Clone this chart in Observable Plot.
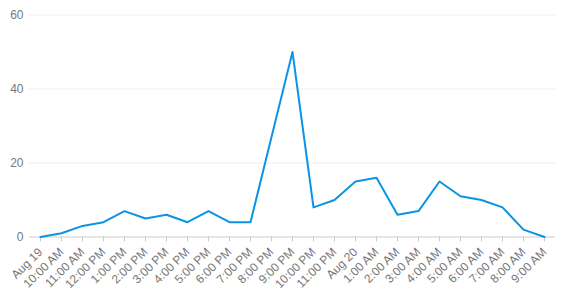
<!DOCTYPE html>
<html>
<head>
<meta charset="utf-8">
<script src="https://cdn.jsdelivr.net/npm/d3@7"></script>
<script src="https://cdn.jsdelivr.net/npm/@observablehq/plot@0.6"></script>
<style>
  html, body { margin: 0; padding: 0; background: #fff; }
</style>
</head>
<body>
<div id="chart"></div>
<script>
const times = ["Aug 19", "10:00 AM", "11:00 AM", "12:00 PM", "1:00 PM", "2:00 PM", "3:00 PM", "4:00 PM", "5:00 PM", "6:00 PM", "7:00 PM", "8:00 PM", "9:00 PM", "10:00 PM", "11:00 PM", "Aug 20", "1:00 AM", "2:00 AM", "3:00 AM", "4:00 AM", "5:00 AM", "6:00 AM", "7:00 AM", "8:00 AM", "9:00 AM"];
const counts = [0, 1, 3, 4, 7, 5, 6, 4, 7, 4, 4, 27, 50, 8, 10, 15, 16, 6, 7, 15, 11, 10, 8, 2, 0];
const yTicks = [0, 20, 40, 60];

const data = times.map((t, i) => ({t, v: counts[i]}));

const chart = Plot.plot({
  width: 562,
  height: 297,
  marginLeft: 29,
  marginRight: 7,
  marginTop: 14.5,
  marginBottom: 60.5,
  style: {fontFamily: "'Liberation Sans', Arial, sans-serif", fontSize: "12px", color: "#777", background: "#fff"},
  x: {type: "point", domain: times, padding: 0.5, label: null},
  y: {domain: [0, 60], label: null},
  marks: [
    Plot.gridY(yTicks.slice(1), {stroke: "#eee", strokeOpacity: 1}),
    Plot.axisY({ticks: yTicks, tickSize: 0, tickPadding: 6, label: null, fill: "#777"}),
    Plot.axisX({tickRotate: -45, tickSize: 5, stroke: "#ccc", fill: "#777", label: null, tickPadding: 8}),
    Plot.ruleY([0], {stroke: "#ccc"}),
    Plot.line(data, {x: "t", y: "v", stroke: "#0b94e5", strokeWidth: 2})
  ]
});
document.getElementById("chart").appendChild(chart);
</script>
</body>
</html>
